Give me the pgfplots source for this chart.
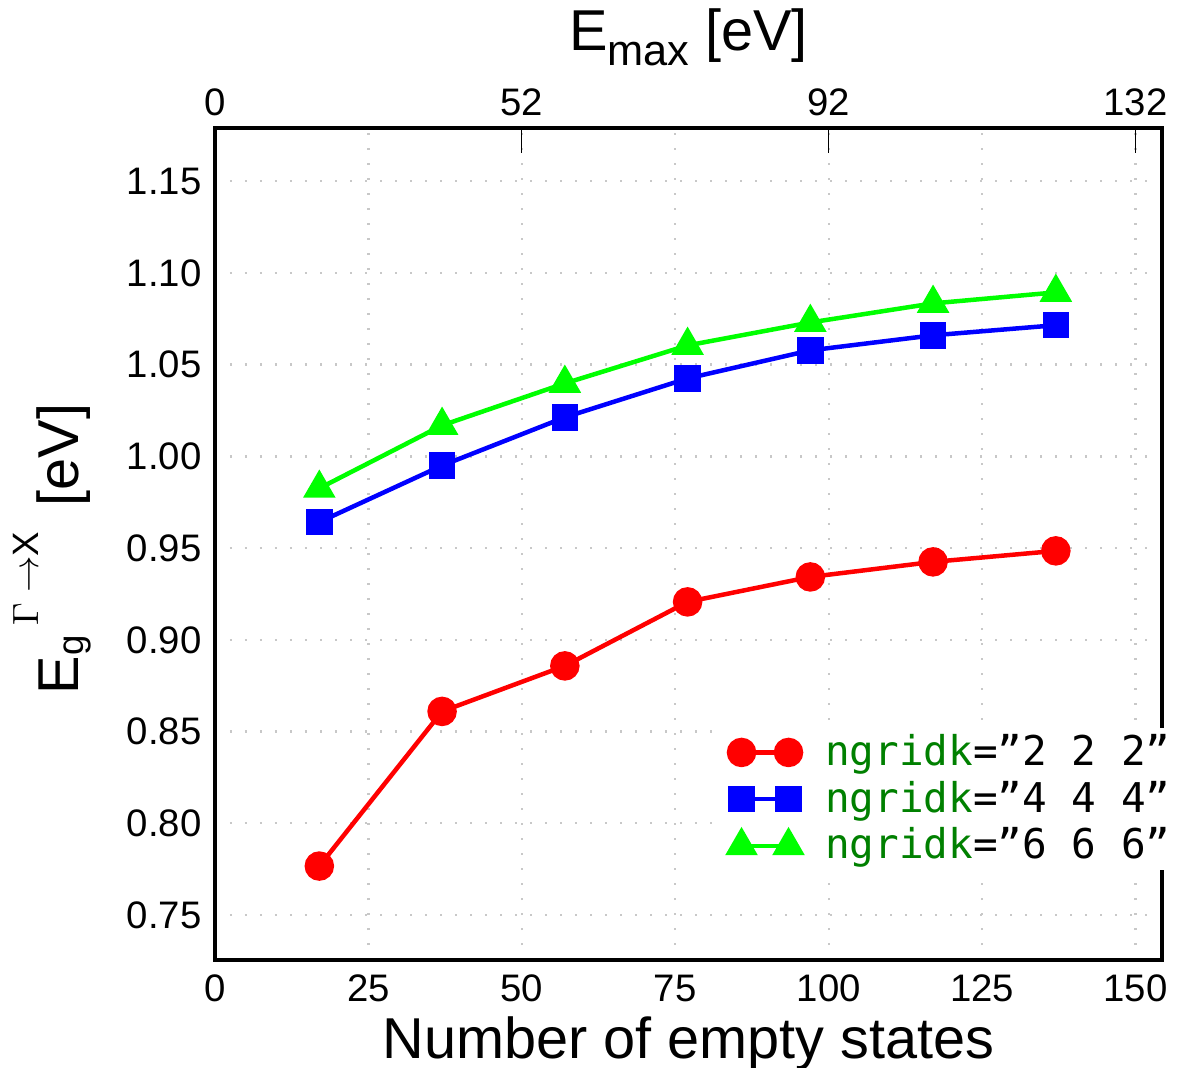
\documentclass[border=0pt]{standalone}
\usepackage{pgfplots}
\pgfplotsset{compat=1.18}
\usepackage{fontspec}
\setmainfont{Liberation Sans}
\setmonofont{DejaVu Sans Mono}
\definecolor{dkgreen}{rgb}{0,0.5,0}
\definecolor{gridgray}{RGB}{200,200,200}
\newcommand{\smallfont}{\fontsize{11}{12}\selectfont}

\begin{document}
\begin{tikzpicture}
\begin{axis}[name=main,
  scale only axis, width=284.1pt, height=249.6pt,
  xmin=0, xmax=154.3, ymin=0.7255, ymax=1.179,
  xtick={0,25,50,75,100,125,150},
  ytick={0.75,0.80,0.85,0.90,0.95,1.00,1.05,1.10,1.15},
  yticklabel style={/pgf/number format/fixed, /pgf/number format/fixed zerofill, /pgf/number format/precision=2, xshift=-0.5pt},
  /pgf/number format/assume math mode=true,
  xtick pos=bottom, ytick pos=left,
  major tick length=0pt,
  ticklabel style={font=\fontsize{11.5}{13}\selectfont},
  xticklabel style={yshift=-1pt},
  grid=major,
  major grid style={gridgray, line width=0.7pt, dash pattern=on 0.7pt off 3.8pt},
  axis line style={line width=1pt},
  xlabel={Number of empty states},
  xlabel style={font=\fontsize{17.3}{19}\selectfont, yshift=2.6pt},
  ylabel={E\raisebox{-1.5pt}{\smallfont g}\,\raisebox{12pt}{\smallfont$\Gamma\rightarrow$X}\, [eV]},
  ylabel style={font=\fontsize{17.3}{19}\selectfont, yshift=4pt, xshift=-1.5pt},
  legend cell align=left,
  legend image code/.code={\draw[#1] plot coordinates {(0pt,0pt) (14.1pt,0pt)};\path (22.4pt,0pt);},
  legend style={at={(0.528,0.280)}, anchor=north west, fill=white, draw=none,
    font=\ttfamily\fontsize{12.3}{14}\selectfont, row sep=-0.85pt,
    inner xsep=4pt, inner ysep=0pt},
]
\addplot[red, line width=1.35pt, mark=*, mark size=3.75pt] coordinates {
(17,0.7767) (37,0.861) (57,0.8858) (77,0.9207) (97,0.9343) (117,0.9425) (137,0.9485)};
\addlegendentry{{\textcolor{dkgreen}{ngridk}=”2 2 2”}}
\addplot[blue, line width=1.35pt, mark=square*, mark size=3.3pt] coordinates {
(17,0.9642) (37,0.995) (57,1.0213) (77,1.0425) (97,1.0578) (117,1.066) (137,1.0715)};
\addlegendentry{{\textcolor{dkgreen}{ngridk}=”4 4 4”}}
\addplot[green, line width=1.35pt, mark=triangle*, mark size=4.3pt] coordinates {
(17,0.9826) (37,1.0169) (57,1.0398) (77,1.0605) (97,1.073) (117,1.0834) (137,1.0894)};
\addlegendentry{{\textcolor{dkgreen}{ngridk}=”6 6 6”}}
\end{axis}
\begin{axis}[
  scale only axis, width=284.1pt, height=249.6pt,
  xmin=0, xmax=154.3, ymin=0, ymax=1,
  axis x line*=top, axis y line=none,
  xtick={0,50,100,150}, xticklabels={0,52,92,132},
  /pgf/number format/assume math mode=true,
  xtick pos=top,
  tick align=inside,
  major tick length=7.5pt,
  major tick style={line width=0.35pt, black},
  axis line style={line width=1pt},
  ticklabel style={font=\fontsize{11.5}{13}\selectfont},
  xlabel={E\raisebox{-4.5pt}{\fontsize{13}{14}\selectfont max} [eV]},
  xlabel style={font=\fontsize{17.3}{19}\selectfont},
]
\end{axis}
\pgfresetboundingbox
\path[use as bounding box] ([shift={(-64.5pt,-32.4pt)}]main.south west) rectangle ([shift={(6.6pt,38.4pt)}]main.north east);
\end{tikzpicture}
\end{document}
